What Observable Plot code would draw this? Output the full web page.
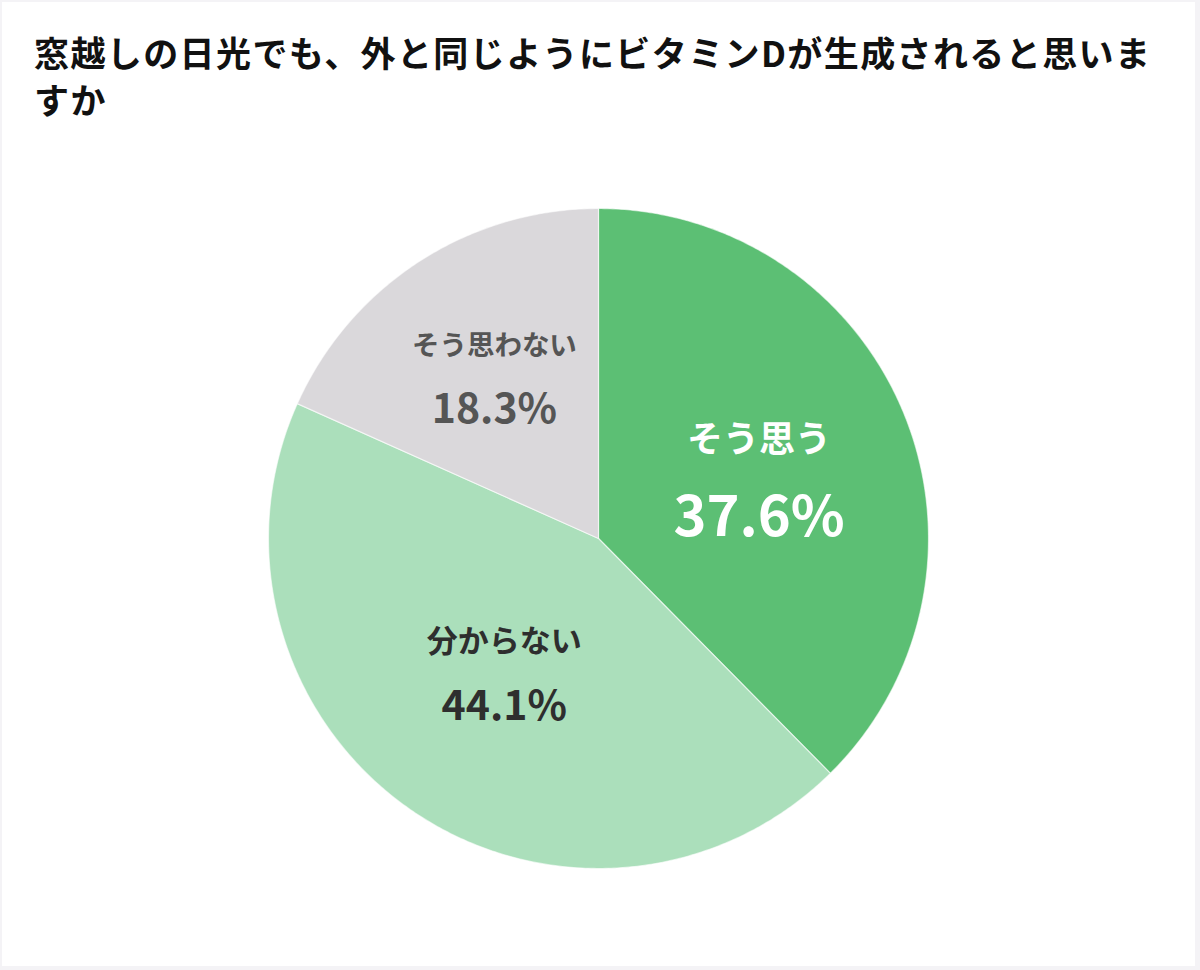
<!DOCTYPE html>
<html lang="ja">
<head>
<meta charset="utf-8">
<script src="https://cdn.jsdelivr.net/npm/d3@7"></script>
<script src="https://cdn.jsdelivr.net/npm/@observablehq/plot@0.6"></script>
<style>
  html, body { margin: 0; padding: 0; background: #f4f3f6; }
  body { width: 1200px; height: 970px; position: relative; overflow: hidden; }
  #card { position: absolute; left: 2px; top: 2px; width: 1193px; height: 964px; background: #fff; }
  #title {
    position: absolute; left: 32px; top: 26px; width: 1130px;
    font-family: "Noto Sans CJK JP", "Noto Sans", sans-serif;
    font-weight: 700; font-size: 35px; line-height: 47px; letter-spacing: 1.4px;
    color: #111;
  }
  #chart { position: absolute; left: -2px; top: 128px; }
</style>
</head>
<body>
<div id="card">
  <div id="title">窓越しの日光でも、外と同じようにビタミンDが生成されると思いますか</div>
</div>
<div id="chart"></div>
<script>
// ---- data ----
const categories = ["そう思う", "分からない", "そう思わない"];
const values = [37.6, 44.1, 18.3];
const sliceColors = ["#5cbf74", "#abdfbb", "#dad8db"];
const textColors = ["#ffffff", "#2e2e2e", "#555555"];
const highlight = "そう思う";

// ---- layout (pixels) ----
const W = 1200, H = 842;
const CX = 600, CY = 410, R = 330;

// pie geometry computed from the values (unit circle, angle clockwise from top)
const total = d3.sum(values);
let acc = 0;
const slices = categories.map((c, i) => {
  const a0 = acc / total * 2 * Math.PI;
  acc += values[i];
  const a1 = acc / total * 2 * Math.PI;
  return {cat: c, value: values[i], a0, a1, color: sliceColors[i], text: textColors[i]};
});

const piePoints = [];
for (const s of slices) {
  piePoints.push({cat: s.cat, x: 0, y: 0, color: s.color});
  const n = Math.max(2, Math.ceil((s.a1 - s.a0) / (Math.PI / 360)));
  for (let k = 0; k <= n; k++) {
    const a = s.a0 + (s.a1 - s.a0) * k / n;
    piePoints.push({cat: s.cat, x: Math.sin(a), y: Math.cos(a), color: s.color});
  }
}

// label anchor: blend of a fixed radius and the sector centroid distance
const labels = [];
for (const s of slices) {
  const m = (s.a0 + s.a1) / 2;
  const th = s.a1 - s.a0;
  const centroid = 4 * Math.sin(th / 2) / (3 * th);
  const r = 0.5 * 0.53 + 0.5 * centroid;
  const x = r * Math.sin(m), y = r * Math.cos(m) - (s.cat === highlight ? 7 / R : 0);
  const big = s.cat === highlight;
  const off = (big ? 39 : 32) / R;
  labels.push({x, y: y + off, label: s.cat, size: big ? 36 : (s.cat.length > 5 ? 27.5 : 31), fill: s.text});
  labels.push({x, y: y - off, label: s.value.toFixed(1) + "%", size: big ? 56 : 41, fill: s.text});
}

const chart = Plot.plot({
  width: W,
  height: H,
  margin: 0,
  x: {domain: [-CX / R, (W - CX) / R], axis: null},
  y: {domain: [-(H - CY) / R, CY / R], axis: null},
  color: {type: "identity"},
  style: {background: "transparent"},
  marks: [
    Plot.line(piePoints, {
      x: "x", y: "y", z: "cat", fill: "color",
      stroke: "#ffffff", strokeWidth: 1.2, strokeOpacity: 0.6,
      curve: "linear-closed"
    }),
    Plot.text(labels, {
      x: "x", y: "y", text: "label", fontSize: "size", fill: "fill",
      fontWeight: 700, fontFamily: "'Noto Sans CJK JP', 'Noto Sans', sans-serif",
      textAnchor: "middle", lineAnchor: "middle"
    })
  ]
});
document.getElementById("chart").appendChild(chart);
</script>
</body>
</html>
